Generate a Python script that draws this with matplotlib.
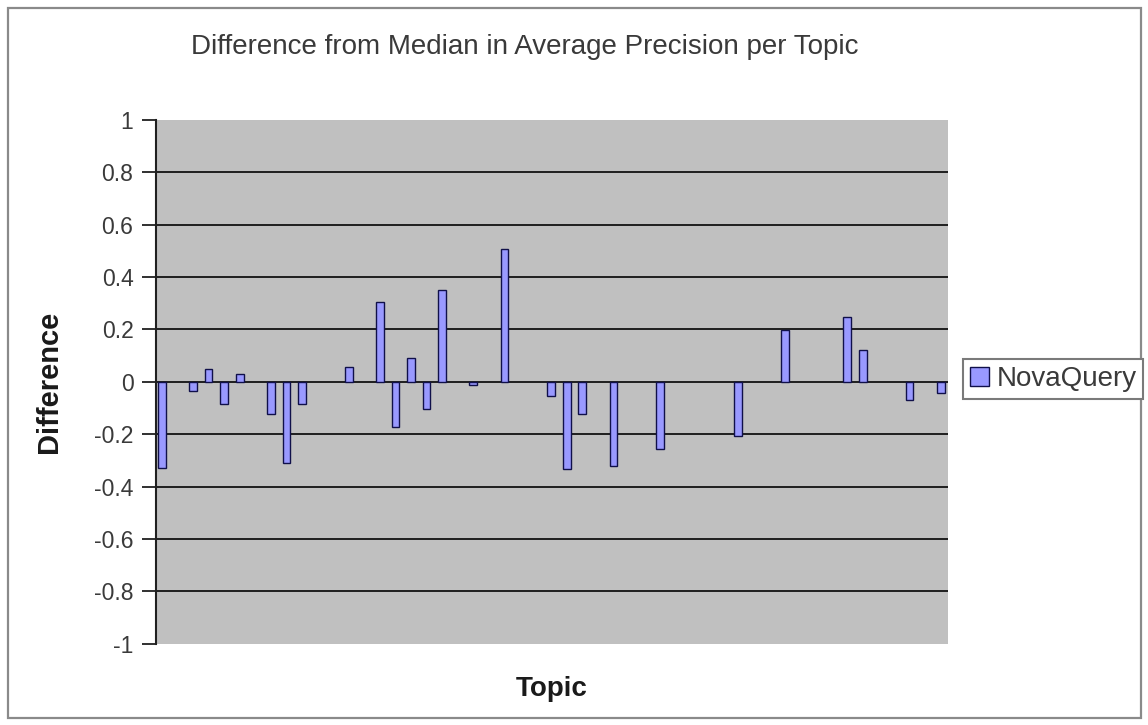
import matplotlib
matplotlib.use("Agg")
import matplotlib.pyplot as plt
from matplotlib.patches import Rectangle, Patch

plt.rcParams["font.family"] = ["Liberation Sans", "DejaVu Sans"]

# Per-topic difference from the median average precision (topic slot -> value)
topic_index = [0, 2, 3, 4, 5, 7, 8, 9, 12, 14, 15, 16, 17, 18, 20, 22,
               25, 26, 27, 29, 32, 37, 40, 44, 45, 48, 50]
difference = [-0.33, -0.035, 0.05, -0.086, 0.03, -0.123, -0.31, -0.085,
              0.055, 0.303, -0.174, 0.089, -0.104, 0.35, -0.014, 0.505,
              -0.055, -0.333, -0.123, -0.321, -0.257, -0.207, 0.197,
              0.248, 0.121, -0.07, -0.044]
series_name = "NovaQuery"

y_ticks = [-1, -0.8, -0.6, -0.4, -0.2, 0, 0.2, 0.4, 0.6, 0.8, 1]
y_tick_labels = ["-1", "-0.8", "-0.6", "-0.4", "-0.2", "0",
                 "0.2", "0.4", "0.6", "0.8", "1"]
grid_levels = [-0.8, -0.6, -0.4, -0.2, 0, 0.2, 0.4, 0.6, 0.8]

title = "Difference from Median in Average Precision per Topic"
x_label = "Topic"
y_label = "Difference"

W, H = 1148, 725
fig = plt.figure(figsize=(W / 100, H / 100), dpi=100)
fig.patch.set_facecolor("white")

# Outer chart border
fig.patches.append(Rectangle((8 / W, 1 - 718 / H), (1141 - 8) / W, (718 - 8) / H,
                             transform=fig.transFigure, fill=False,
                             edgecolor="#8a8a8a", linewidth=1.6, zorder=0))

left, right, top, bottom = 155.7, 948.3, 119.7, 643.7
ax = fig.add_axes([left / W, 1 - bottom / H, (right - left) / W, (bottom - top) / H])
ax.set_facecolor("#C0C0C0")

for lvl in grid_levels:
    ax.axhline(lvl, color="#1e1e1e", linewidth=1.4, zorder=1)

bar_color = "#9999FF"
bar_edge = "#10104a"
ax.bar(topic_index, difference, width=0.5, color=bar_color,
       edgecolor=bar_edge, linewidth=1.0, zorder=3)

ax.set_xlim(-0.39, 50.49)
ax.set_ylim(-1, 1)
ax.set_xticks([])
ax.set_yticks(y_ticks)
ax.set_yticklabels(y_tick_labels, fontsize=16.5, color="#3a3a3a")
ax.tick_params(axis="y", direction="out", length=10, width=1.3,
               color="#202020", pad=6)

for side in ("top", "right", "bottom"):
    ax.spines[side].set_visible(False)
ax.spines["left"].set_color("#202020")
ax.spines["left"].set_linewidth(1.5)

fig.text(524.5 / W, 1 - 47 / H, title, ha="center", va="center",
         fontsize=20, color="#3a3a3a")
fig.text(552 / W, 1 - 689 / H, x_label, ha="center", va="center",
         fontsize=20, fontweight="bold", color="#1a1a1a")
fig.text(49 / W, 1 - 382 / H, y_label, ha="center", va="center",
         rotation=90, fontsize=21, fontweight="bold", color="#1a1a1a")

handles = [Patch(facecolor=bar_color, edgecolor=bar_edge, linewidth=1.0,
                 label=series_name)]
leg = fig.legend(handles=handles, loc="center left",
                 bbox_to_anchor=(963 / W, 1 - 379 / H), fontsize=20,
                 frameon=True, fancybox=False, framealpha=1,
                 edgecolor="#7a7a7a", handlelength=0.7, handleheight=0.7,
                 handletextpad=0.25, borderpad=0.25, borderaxespad=0)
leg.get_frame().set_linewidth(1.5)
for t in leg.get_texts():
    t.set_color("#3a3a3a")

fig.savefig("out.png", dpi=100)
